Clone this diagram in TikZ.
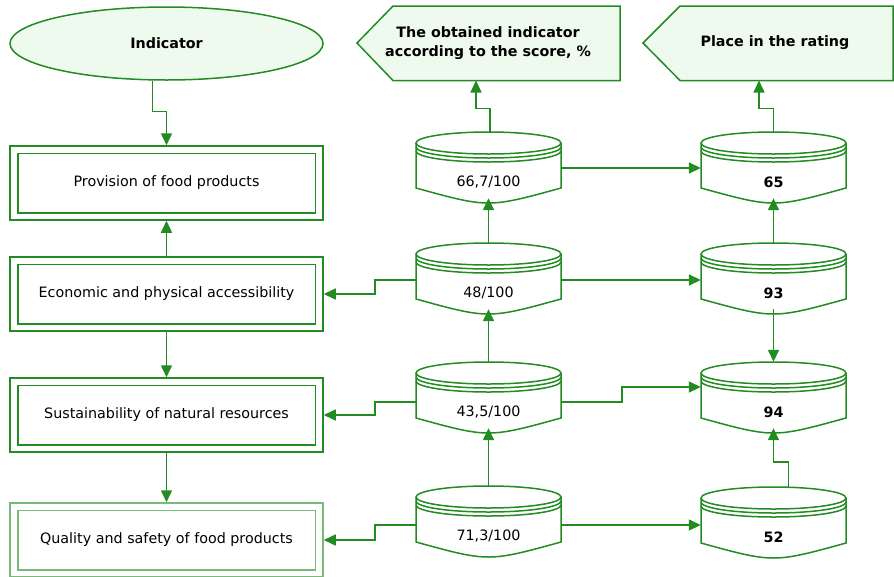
\documentclass[tikz,border=0pt]{standalone}
\usepackage{fontspec}
\setmainfont{DejaVu Sans}
\usetikzlibrary{arrows.meta,shapes.geometric}
\definecolor{dg}{HTML}{228B22}
\definecolor{lf}{HTML}{EEFAEE}
\colorlet{lg}{dg!60!white}
\newcommand\mycyl[4]{%
  \node[inner sep=0pt, minimum width=145pt, minimum height=66pt] (#1) at (#2,#3+33) {};
  \draw[ln, fill=white] (#2-72.5,#3+11) -- (#2-72.5,#3+56) .. controls (#2,#3+76) .. (#2+72.5,#3+56) -- (#2+72.5,#3+11);
  \draw[ln, fill=white] (#2,#3+11) ellipse[x radius=72.5, y radius=11];
  \draw[ln] (#2-72.5,#3+15) arc[start angle=180, end angle=0, x radius=72.5, y radius=11];
  \draw[ln] (#2-72.5,#3+19) arc[start angle=180, end angle=0, x radius=72.5, y radius=11];
  \node[txt] (#1t) at (#2,#3+50) {#4};
}
\begin{document}
\begin{tikzpicture}[x=1pt, y=-1pt,
  ln/.style={draw=dg, line width=1.5pt},
  arr/.style={ln, -{Triangle[length=12pt, width=11pt]}},
  txt/.style={font=\fontsize{14.3}{19}\selectfont, inner sep=0pt, align=center},
  btxt/.style={txt, font=\fontsize{14.3}{19}\selectfont\bfseries},
  outerbox/.style={draw=dg, line width=1.5pt, minimum width=313pt, minimum height=74pt, inner sep=0pt},
]
\useasboundingbox (0,0) rectangle (894,576);

% header ellipse
\node[ellipse, draw=dg, line width=1.5pt, fill=lf, minimum width=313pt, minimum height=73pt, inner sep=0pt] (ind) at (166.5,43.5) {};
\node[btxt] (indt) at (ind) {Indicator};

% pentagons
\draw[ln, fill=lf] (357,43) -- (393,6) -- (620,6) -- (620,80.5) -- (393,80.5) -- cycle;
\node[btxt] (p1) at (488,43.5) {The obtained indicator\\according to the score, \%};
\coordinate (p1in) at (476,80.5);
\draw[ln, fill=lf] (643,43) -- (680,6) -- (893,6) -- (893,80.5) -- (680,80.5) -- cycle;
\node[btxt] (p2) at (775,43) {Place in the rating};
\coordinate (p2in) at (759,80.5);

% left boxes
\node[outerbox] (b1) at (166.5,183) {};
\draw[ln] ([shift={(8.5pt,-8pt)}]b1.north west) rectangle ([shift={(-8.5pt,8pt)}]b1.south east);
\node[txt] (b1t) at (b1) {Provision of food products};

\node[outerbox] (b2) at (166.5,294) {};
\draw[ln] ([shift={(8.5pt,-8pt)}]b2.north west) rectangle ([shift={(-8.5pt,8pt)}]b2.south east);
\node[txt] (b2t) at (b2) {Economic and physical accessibility};

\node[outerbox] (b3) at (166.5,415) {};
\draw[ln] ([shift={(8.5pt,-8pt)}]b3.north west) rectangle ([shift={(-8.5pt,8pt)}]b3.south east);
\node[txt] (b3t) at (b3) {Sustainability of natural resources};

\node[outerbox, draw=lg] (b4) at (166.5,540) {};
\draw[ln, draw=lg] ([shift={(8.5pt,-8pt)}]b4.north west) rectangle ([shift={(-8.5pt,8pt)}]b4.south east);
\node[txt] (b4t) at (b4) {Quality and safety of food products};

% cylinders
\mycyl{c11}{488.5}{132}{66,7/100}
\mycyl{c12}{488.5}{243}{48/100}
\mycyl{c13}{488.5}{362}{43,5/100}
\mycyl{c14}{488.5}{486}{71,3/100}
\mycyl{c21}{773.5}{132}{\textbf{65}}
\mycyl{c22}{773.5}{243}{\textbf{93}}
\mycyl{c23}{773.5}{362}{\textbf{94}}
\mycyl{c24}{773.5}{487}{\textbf{52}}

% connectors
\draw[arr] ([xshift=-14pt]ind.south) |- ([yshift=34pt]b1.north) -- (b1.north);
\draw[arr] (b2.north) -- (b1.south);
\draw[arr] (b2.south) -- (b3.north);
\draw[arr] (b3.south) -- (b4.north);

\draw[arr] (c12.north) -- (c11.south);
\draw[arr] (c13.north) -- (c12.south);
\draw[arr] (c14.north) -- (c13.south);

\draw[arr] ([xshift=1.5pt]c11.north) |- ([yshift=-28pt]p1in) -- (p1in);
\draw[arr] (c21.north) |- ([yshift=-28pt]p2in) -- (p2in);

\draw[arr] ([yshift=-3pt]c11.east) -- ([yshift=-3pt]c11.east -| c21.west);
\draw[arr] ([yshift=-4pt]c12.east) -- ([yshift=-4pt]c12.east -| c22.west);
\draw[arr] ([yshift=-7pt]c13.east) -- ++(61,0) |- ([yshift=8pt]c23.west);
\draw[arr] ([yshift=-6pt]c14.east) -- ([yshift=-6pt]c14.east -| c24.west);

\draw[arr] ([yshift=-4pt]c12.west) -- ++(-41,0) |- (b2.east);
\draw[arr] ([yshift=-7pt]c13.west) -- ++(-41,0) |- (b3.east);
\draw[arr] ([yshift=-6pt]c14.west) -- ++(-41,0) |- (b4.east);

\draw[arr] (c22.north) -- (c21.south);
\draw[arr] (c22.south) -- (c23.north);
\draw[arr] ([xshift=15pt]c24.north) |- ([yshift=-34pt]c23.south) -- (c23.south);
\end{tikzpicture}
\end{document}
